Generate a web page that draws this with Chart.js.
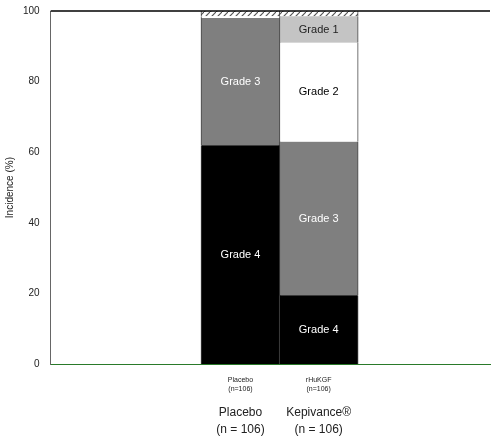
<!DOCTYPE html><html><head><meta charset="utf-8"><script src="https://cdn.jsdelivr.net/npm/chart.js@4"></script>
<style>body{margin:0;background:#fff}#w{width:503px;height:445px}</style></head><body><div id="w"><canvas id="c"></canvas></div>
<script>
const categories=['Placebo','Kepivance®'];
const tickLabels=[['Placebo','(n=106)'],['rHuKGF','(n=106)']];
const bigLabels=[['Placebo','(n = 106)'],['Kepivance®','(n = 106)']];
const xPos=[36.4,72];
const grade4=[62,19.5];
const grade3=[36,43.5];
const grade2=[0.5,28];
const grade1=[0,7.5];
const other=[1.5,1.5];
const yTicks=[0,20,40,60,80,100];
const pc=document.createElement('canvas');pc.width=6;pc.height=6;const px=pc.getContext('2d');
px.fillStyle='#fff';px.fillRect(0,0,6,6);px.strokeStyle='#555';px.lineWidth=1.2;px.beginPath();px.moveTo(0,6);px.lineTo(6,0);px.stroke();
const hatch=px.createPattern(pc,'repeat');
function ds(label,vals,bg,tc){return{label,data:vals.map((v,i)=>({x:xPos[i],y:v})),backgroundColor:bg,borderColor:'#444',borderWidth:{left:1,right:1,top:0,bottom:0},barThickness:79,grouped:false,textColor:tc};}
const sets=[ds('Grade 4',grade4,'#000','#fff'),ds('Grade 3',grade3,'#7f7f7f','#fff'),ds('Grade 2',grade2,'#fff','#000'),ds('Grade 1',grade1,'#c4c4c4','#222'),ds('',other,hatch,null)];
const labPlugin={id:'lab',afterDatasetsDraw(ch){const c=ch.ctx;c.save();c.font='11px Arial';c.textAlign='center';c.textBaseline='middle';
ch.data.datasets.forEach((d,di)=>{if(!d.textColor)return;ch.getDatasetMeta(di).data.forEach((el,i)=>{if(d.data[i].y<5)return;c.fillStyle=d.textColor;c.fillText(d.label,el.x,(el.y+el.base)/2);});});
const xs=ch.scales.x;c.fillStyle='#222';c.font='12px Arial';bigLabels.forEach((l,i)=>{const x=xs.getPixelForValue(xPos[i]);c.fillText(l[0],x,413);c.fillText(l[1],x,430);});
const a=ch.chartArea;c.strokeStyle='#000';c.lineWidth=1.5;c.beginPath();c.moveTo(a.left,a.top);c.lineTo(a.right,a.top);c.stroke();c.restore();}};
new Chart(document.getElementById('c'),{type:'bar',data:{datasets:sets},plugins:[labPlugin],
options:{responsive:true,maintainAspectRatio:false,animation:false,layout:{padding:{top:11,right:13,bottom:48,left:0}},
plugins:{legend:{display:false},tooltip:{enabled:false}},
scales:{x:{type:'linear',stacked:true,min:0,max:100,grid:{display:false},border:{color:'#2a7a2a'},
afterBuildTicks(s){s.ticks=xPos.map(v=>({value:v}));},ticks:{autoSkip:false,maxRotation:0,font:{size:7,family:'Arial'},color:'#222',padding:4,callback:(v,i)=>tickLabels[i]}},
y:{stacked:true,min:0,max:100,afterBuildTicks(s){s.ticks=yTicks.map(v=>({value:v}));},grid:{display:false,drawTicks:true},border:{color:'#666'},
ticks:{font:{size:10,family:'Arial'},color:'#222'},title:{display:true,text:'Incidence (%)',font:{size:10,family:'Arial'},color:'#222'}}}}});
</script></body></html>
